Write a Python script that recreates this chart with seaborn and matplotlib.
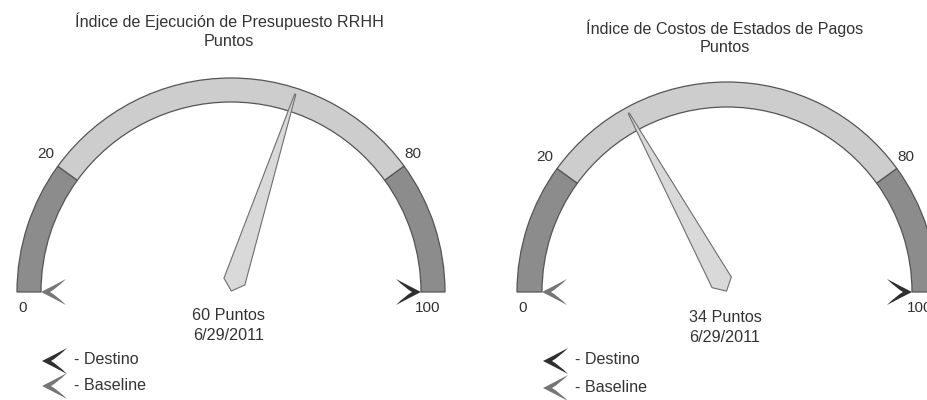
import numpy as np
import pandas as pd
import matplotlib
matplotlib.use("Agg")
import matplotlib.pyplot as plt
import seaborn as sns
from matplotlib.patches import Wedge, Polygon
from matplotlib.path import Path
from matplotlib.markers import MarkerStyle

# ---------------- data ----------------
titles = ["Índice de Ejecución de Presupuesto RRHH", "Índice de Costos de Estados de Pagos"]
subtitle = "Puntos"
values = [60, 34]
unit = "Puntos"
dates = ["6/29/2011", "6/29/2011"]
band_edges = [0, 20, 80, 100]
band_colors = ["#8c8c8c", "#cdcdcd", "#8c8c8c"]
tick_values = [0, 20, 80, 100]
tick_labels = ["0", "20", "80", "100"]
target_value = 100      # Destino
baseline_value = 0      # Baseline
legend_labels = ["- Destino", "- Baseline"]

# ---------------- style ----------------
sns.set_theme(style="white")
plt.rcParams["font.family"] = ["Liberation Sans", "DejaVu Sans"]
TXT = "#333333"
EDGE = "#555555"
DEST_C = "#2f2f2f"
BASE_C = "#767676"

W, H = 927, 400
fig = plt.figure(figsize=(W / 100, H / 100), dpi=100)
ax = fig.add_axes([0, 0, 1, 1])
ax.set_xlim(0, W)
ax.set_ylim(0, H)
ax.axis("off")

# layout of each gauge in pixel coordinates (y from top)
layout = [
    dict(cx=231, cy=292, ro=214, ri=190, ty=21, vy=315, ly=(361, 386)),
    dict(cx=727, cy=292, ro=210, ri=185, ty=28, vy=318, ly=(361, 388)),
]


def Y(y):
    return H - y


def ang(v):
    return 180.0 - 1.8 * v


def chevron_path(direction_deg):
    # arrow head with tip at origin, pointing along direction
    verts = np.array([
        [0, 0], [-11, 5.5], [-25, 13],
        [-16, 4], [-9, 0],
        [-16, -4], [-25, -13],
        [-11, -5.5], [0, 0],
    ], dtype=float)
    codes = [Path.MOVETO, Path.CURVE3, Path.CURVE3,
             Path.CURVE3, Path.CURVE3,
             Path.CURVE3, Path.CURVE3,
             Path.CURVE3, Path.CURVE3]
    t = np.deg2rad(direction_deg)
    R = np.array([[np.cos(t), -np.sin(t)], [np.sin(t), np.cos(t)]])
    v = verts @ R.T
    return Path(v, codes), np.max(np.abs(v))


def draw_marker(x, y, direction_deg, color):
    p, m = chevron_path(direction_deg)
    ms = 0.72 * 2 * m
    df = pd.DataFrame({"x": [x], "y": [y]})
    sns.scatterplot(data=df, x="x", y="y", marker=MarkerStyle(p), s=ms ** 2,
                    color=color, edgecolor="none", linewidth=0, ax=ax,
                    legend=False, zorder=6)


fs = 11.6
for g, title, val, date in zip(layout, titles, values, dates):
    cx, cy, ro, ri = g["cx"], g["cy"], g["ro"], g["ri"]
    # title
    ax.text(cx - 2, Y(g["ty"]), title, ha="center", va="center", fontsize=fs, color=TXT)
    ax.text(cx - 2, Y(g["ty"] + 20), subtitle, ha="center", va="center", fontsize=fs, color=TXT)
    # bands
    for b0, b1, c in zip(band_edges[:-1], band_edges[1:], band_colors):
        ax.add_patch(Wedge((cx, Y(cy)), ro, ang(b1), ang(b0), width=ro - ri,
                           facecolor=c, edgecolor=EDGE, linewidth=0.9, zorder=2))
    # tick labels
    for tv, tl in zip(tick_values, tick_labels):
        if tv == band_edges[0]:
            ax.text(cx - ro + 1, Y(cy + 16), tl, ha="left", va="center", fontsize=11, color=TXT)
        elif tv == band_edges[-1]:
            ax.text(cx + ro - 5, Y(cy + 16), tl, ha="right", va="center", fontsize=11, color=TXT)
        else:
            t = np.deg2rad(ang(tv))
            bx, by = cx + ro * np.cos(t), Y(cy) + ro * np.sin(t)
            if tv < 50:
                ax.text(bx - 4, by + 12, tl, ha="right", va="center", fontsize=11, color=TXT)
            else:
                ax.text(bx, by + 12, tl, ha="left", va="center", fontsize=11, color=TXT)
    # needle
    t = np.deg2rad(ang(val))
    d = np.array([np.cos(t), np.sin(t)])
    n = np.array([-np.sin(t), np.cos(t)])
    c0 = np.array([cx, Y(cy)])
    L = ro - 6
    local = [(1, 0), (11, -11), (L, -0.6), (L, 0.6), (11, 11)]
    pts = [c0 + u * d + w * n for u, w in local]
    ax.add_patch(Polygon(pts, closed=True, facecolor="#d9d9d9", edgecolor="#6e6e6e",
                         linewidth=0.8, zorder=4))
    # value text
    ax.text(cx - 2, Y(g["vy"]), f"{val} {unit}", ha="center", va="center", fontsize=fs, color=TXT)
    ax.text(cx - 2, Y(g["vy"] + 20), date, ha="center", va="center", fontsize=fs, color=TXT)
    # target / baseline markers at inner edge, pointing outward
    for mv, col in ((target_value, DEST_C), (baseline_value, BASE_C)):
        a = ang(mv)
        ta = np.deg2rad(a)
        draw_marker(cx + ri * np.cos(ta), Y(cy) + ri * np.sin(ta), a, col)
    # legend
    lx = cx - ri + 1
    for lab, col, yy in zip(legend_labels, (DEST_C, BASE_C), g["ly"]):
        draw_marker(lx, Y(yy), 180, col)
        ax.text(lx + 32, Y(yy - 1), lab, ha="left", va="center", fontsize=fs, color=TXT)

fig.savefig("out.png", dpi=100)
